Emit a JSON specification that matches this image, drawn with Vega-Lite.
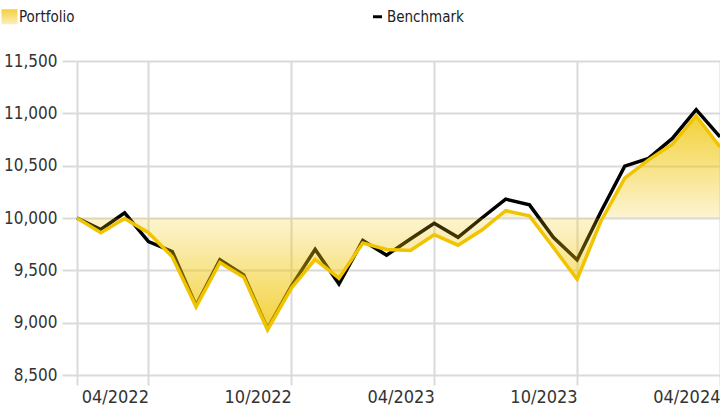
{
  "$schema": "https://vega.github.io/schema/vega-lite/v6.json",
  "width": 643,
  "height": 314,
  "autosize": {"type": "none"},
  "padding": {"left": 77, "top": 61, "right": 0, "bottom": 35},
  "background": "white",
  "config": {
    "view": {"stroke": null},
    "font": "DejaVu Sans Condensed, Roboto, sans-serif",
    "axis": {"labelFont": "DejaVu Sans Condensed, Roboto, sans-serif", "labelColor": "#333333"},
    "legend": {"labelFont": "DejaVu Sans Condensed, Roboto, sans-serif"}
  },
  "datasets": {
    "wide": [
      {"month": "01/2022", "Portfolio": 10000, "Benchmark": 10000},
      {"month": "02/2022", "Portfolio": 9860, "Benchmark": 9890},
      {"month": "03/2022", "Portfolio": 9995, "Benchmark": 10050},
      {"month": "04/2022", "Portfolio": 9860, "Benchmark": 9775},
      {"month": "05/2022", "Portfolio": 9630, "Benchmark": 9680},
      {"month": "06/2022", "Portfolio": 9150, "Benchmark": 9165},
      {"month": "07/2022", "Portfolio": 9575, "Benchmark": 9600},
      {"month": "08/2022", "Portfolio": 9435, "Benchmark": 9455},
      {"month": "09/2022", "Portfolio": 8930, "Benchmark": 8945},
      {"month": "10/2022", "Portfolio": 9330, "Benchmark": 9350},
      {"month": "11/2022", "Portfolio": 9605, "Benchmark": 9700},
      {"month": "12/2022", "Portfolio": 9425, "Benchmark": 9370},
      {"month": "01/2023", "Portfolio": 9760, "Benchmark": 9785},
      {"month": "02/2023", "Portfolio": 9700, "Benchmark": 9645},
      {"month": "03/2023", "Portfolio": 9690, "Benchmark": 9800},
      {"month": "04/2023", "Portfolio": 9840, "Benchmark": 9950},
      {"month": "05/2023", "Portfolio": 9740, "Benchmark": 9815},
      {"month": "06/2023", "Portfolio": 9885, "Benchmark": 10000},
      {"month": "07/2023", "Portfolio": 10070, "Benchmark": 10180},
      {"month": "08/2023", "Portfolio": 10020, "Benchmark": 10125},
      {"month": "09/2023", "Portfolio": 9720, "Benchmark": 9815},
      {"month": "10/2023", "Portfolio": 9415, "Benchmark": 9600},
      {"month": "11/2023", "Portfolio": 9970, "Benchmark": 10060},
      {"month": "12/2023", "Portfolio": 10380, "Benchmark": 10495},
      {"month": "01/2024", "Portfolio": 10555, "Benchmark": 10570},
      {"month": "02/2024", "Portfolio": 10705, "Benchmark": 10760},
      {"month": "03/2024", "Portfolio": 10975, "Benchmark": 11035},
      {"month": "04/2024", "Portfolio": 10680, "Benchmark": 10775}
    ]
  },
  "data": {"name": "wide"},
  "transform": [
    {"fold": ["Portfolio", "Benchmark"], "as": ["series", "value"]}
  ],
  "encoding": {
    "x": {
      "field": "month",
      "type": "ordinal",
      "sort": null,
      "scale": {"type": "point", "padding": 0},
      "axis": {
        "title": null,
        "values": ["01/2022", "04/2022", "10/2022", "04/2023", "10/2023", "04/2024"],
        "labelExpr": "datum.value === '01/2022' ? '' : datum.label",
        "labelAngle": 0,
        "labelAlign": "right",
        "labelBaseline": "top",
        "labelFontSize": 18,
        "labelPadding": 3,
        "labelDx": -3,
        "grid": true,
        "gridColor": "#dadada",
        "gridWidth": 2,
        "tickColor": "#dadada",
        "tickWidth": 2,
        "tickSize": 10,
        "domain": false,
        "labelOverlap": false
      }
    },
    "y": {
      "field": "value",
      "type": "quantitative",
      "scale": {"domain": [8500, 11500], "nice": false, "zero": false},
      "axis": {
        "title": null,
        "values": [8500, 9000, 9500, 10000, 10500, 11000, 11500],
        "format": ",d",
        "labelFontSize": 17,
        "labelPadding": 5,
        "grid": true,
        "gridColor": "#dadada",
        "gridWidth": 2,
        "tickColor": "#dadada",
        "tickWidth": 2,
        "tickSize": 15,
        "domain": false
      }
    }
  },
  "layer": [
    {
      "transform": [{"filter": "datum.series === 'Benchmark'"}],
      "mark": {"type": "line", "strokeWidth": 3.5, "color": "#000000", "strokeJoin": "miter"},
      "encoding": {
        "color": {
          "field": "series",
          "type": "nominal",
          "scale": {"domain": ["Portfolio", "Benchmark"], "range": ["#f0c400", "#000000"]},
          "legend": {
            "title": null,
            "orient": "none",
            "legendX": -75,
            "legendY": -52,
            "direction": "horizontal",
            "padding": 0,
            "labelFontSize": 15,
            "labelColor": "#222222",
            "labelOffset": 2,
            "columnPadding": 295,
            "encode": {
              "symbols": {
                "update": {
                  "shape": {"signal": "datum.label === 'Portfolio' ? 'M-1,-0.94H1V0.94H-1Z' : 'M-1,-0.33H1V0.33H-1Z'"},
                  "size": {"signal": "datum.label === 'Portfolio' ? 256 : 81"},
                  "fill": {"signal": "datum.label === 'Portfolio' ? {gradient: 'linear', x1: 0, y1: 0, x2: 0, y2: 1, stops: [{offset: 0, color: '#f4cf3c'}, {offset: 1, color: '#fbefbb'}]} : '#000000'"},
                  "strokeWidth": {"value": 0},
                  "opacity": {"value": 1}
                }
              }
            }
          }
        }
      }
    },
    {
      "transform": [{"filter": "datum.series === 'Portfolio'"}],
      "mark": {
        "type": "area",
        "line": false,
        "fill": {
          "gradient": "linear",
          "x1": 0, "y1": 0, "x2": 0, "y2": 1,
          "stops": [
            {"offset": 0, "color": "rgba(240,196,0,0.78)"},
            {"offset": 0.477, "color": "rgba(240,196,0,0.18)"},
            {"offset": 1, "color": "rgba(240,196,0,0.78)"}
          ]
        }
      },
      "encoding": {
        "y2": {"datum": 10000}
      }
    },
    {
      "transform": [{"filter": "datum.series === 'Portfolio'"}],
      "mark": {"type": "line", "strokeWidth": 3.5, "color": "#f0c400", "strokeJoin": "miter"},
      "encoding": {}
    }
  ]
}
